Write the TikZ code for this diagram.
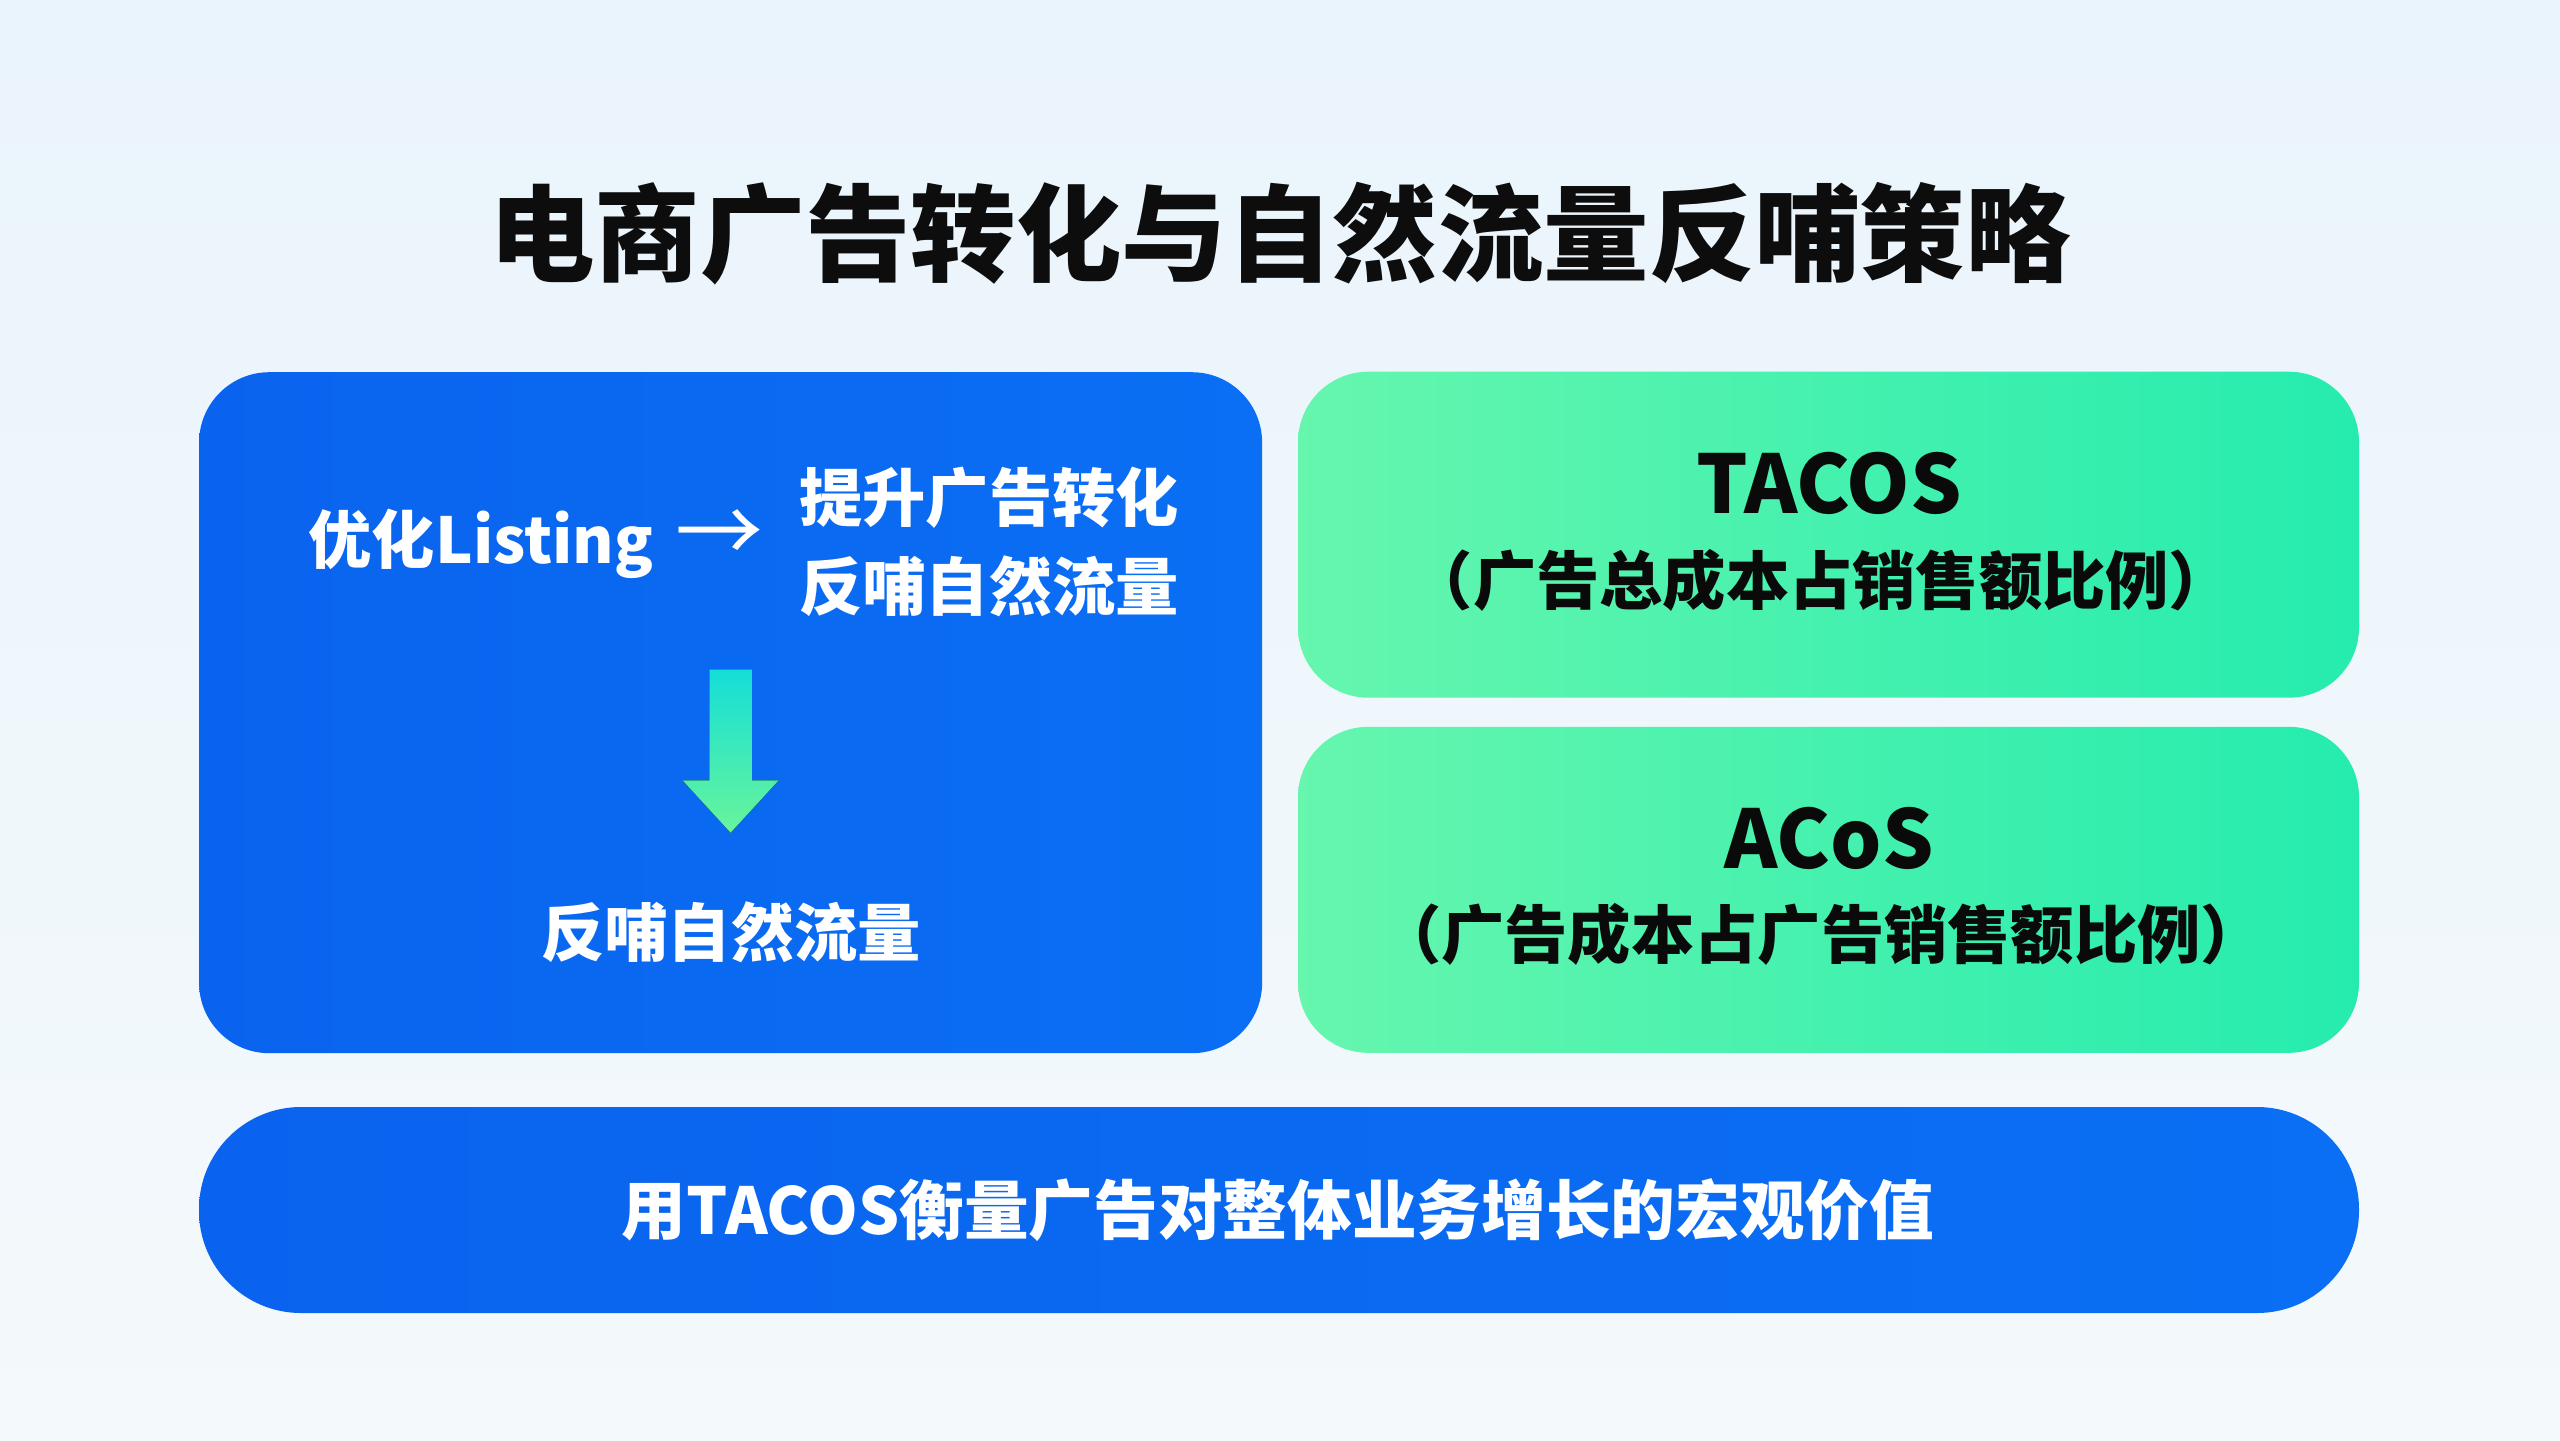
\documentclass[tikz,border=0pt]{standalone}
\usepackage{fontspec}
\setmainfont{Noto Sans CJK SC}
\usepackage{xcolor}
\usetikzlibrary{positioning,calc}

\definecolor{pagetop}{HTML}{EAF4FC}
\definecolor{pagebot}{HTML}{F4F9FB}
\definecolor{flowblueA}{HTML}{0A63EE}
\definecolor{flowblueB}{HTML}{0A6FF4}
\definecolor{mintA}{HTML}{66F6AE}
\definecolor{mintB}{HTML}{25ECAE}
\definecolor{arrcyan}{HTML}{14DED8}
\definecolor{arrgreen}{HTML}{68F59A}

\begin{document}
\begin{tikzpicture}[
    font=\bfseries,
    title/.style={font=\bfseries\fontsize{30}{36}\selectfont, text=black!95},
    bluebox/.style={rounded corners=20pt, left color=flowblueA, right color=flowblueB, minimum width=10.63cm, minimum height=6.81cm},
    mintbox/.style={rounded corners=20pt, left color=mintA, right color=mintB, minimum width=10.61cm, minimum height=3.26cm},
    pillbox/.style={rounded corners=1.02cm, left color=flowblueA, right color=flowblueB, minimum width=21.6cm, minimum height=2.06cm},
    whitetext/.style={font=\bfseries\fontsize{18}{25.5}\selectfont, text=white, align=left, inner sep=0pt},
    keyterm/.style={font=\bfseries\fontsize{23}{28}\selectfont, text=black!96, inner sep=0pt},
    keydef/.style={font=\bfseries\fontsize{18}{24}\selectfont, text=black!96, inner sep=0pt}
]
\shade[top color=pagetop, bottom color=pagebot] (0,0) rectangle (25.6,-14.4);
\useasboundingbox (0,0) rectangle (25.6,-14.4);
\node[title] (title) at (12.80,-2.34) {电商广告转化与自然流量反哺策略};
\node[bluebox] (flow) at (7.306,-7.127) {};
\node[whitetext] (listing) at (5.36,-5.44) {优化Listing\hspace{0.35em}{\mdseries\fontsize{25}{25}\selectfont →}};
\node[whitetext] (gain) at (9.89,-5.42) {提升广告转化\\反哺自然流量};
\node[whitetext] (organic) at (7.31,-9.32) {反哺自然流量};
\coordinate (arrtop) at (7.306,-6.694);
\coordinate (arrtip) at (7.306,-8.327);
\fill[top color=arrcyan, bottom color=arrgreen] ($(arrtop)+(-0.212,0)$) -- ($(arrtop)+(0.212,0)$) -- ($(arrtip)+(0.212,0.523)$) -- ($(arrtip)+(0.48,0.523)$) -- (arrtip) -- ($(arrtip)+(-0.48,0.523)$) -- ($(arrtip)+(-0.212,0.523)$) -- cycle;
\node[mintbox] (tacosbox) at (18.285,-5.347) {};
\node[keyterm] (tacos) at (18.29,-4.83) {TACOS};
\node[keydef] (tacosdef) at (18.21,-5.80) {（广告总成本占销售额比例）};
\node[mintbox] (acosbox) at (18.285,-8.898) {};
\node[keyterm] (acos) at (18.29,-8.38) {ACoS};
\node[keydef] (acosdef) at (18.21,-9.34) {（广告成本占广告销售额比例）};
\node[pillbox] (macro) at (12.79,-12.10) {};
\node[whitetext, font=\bfseries\fontsize{18.4}{25.5}\selectfont] (macrotext) at (12.78,-12.10) {用TACOS衡量广告对整体业务增长的宏观价值};
\end{tikzpicture}
\end{document}
